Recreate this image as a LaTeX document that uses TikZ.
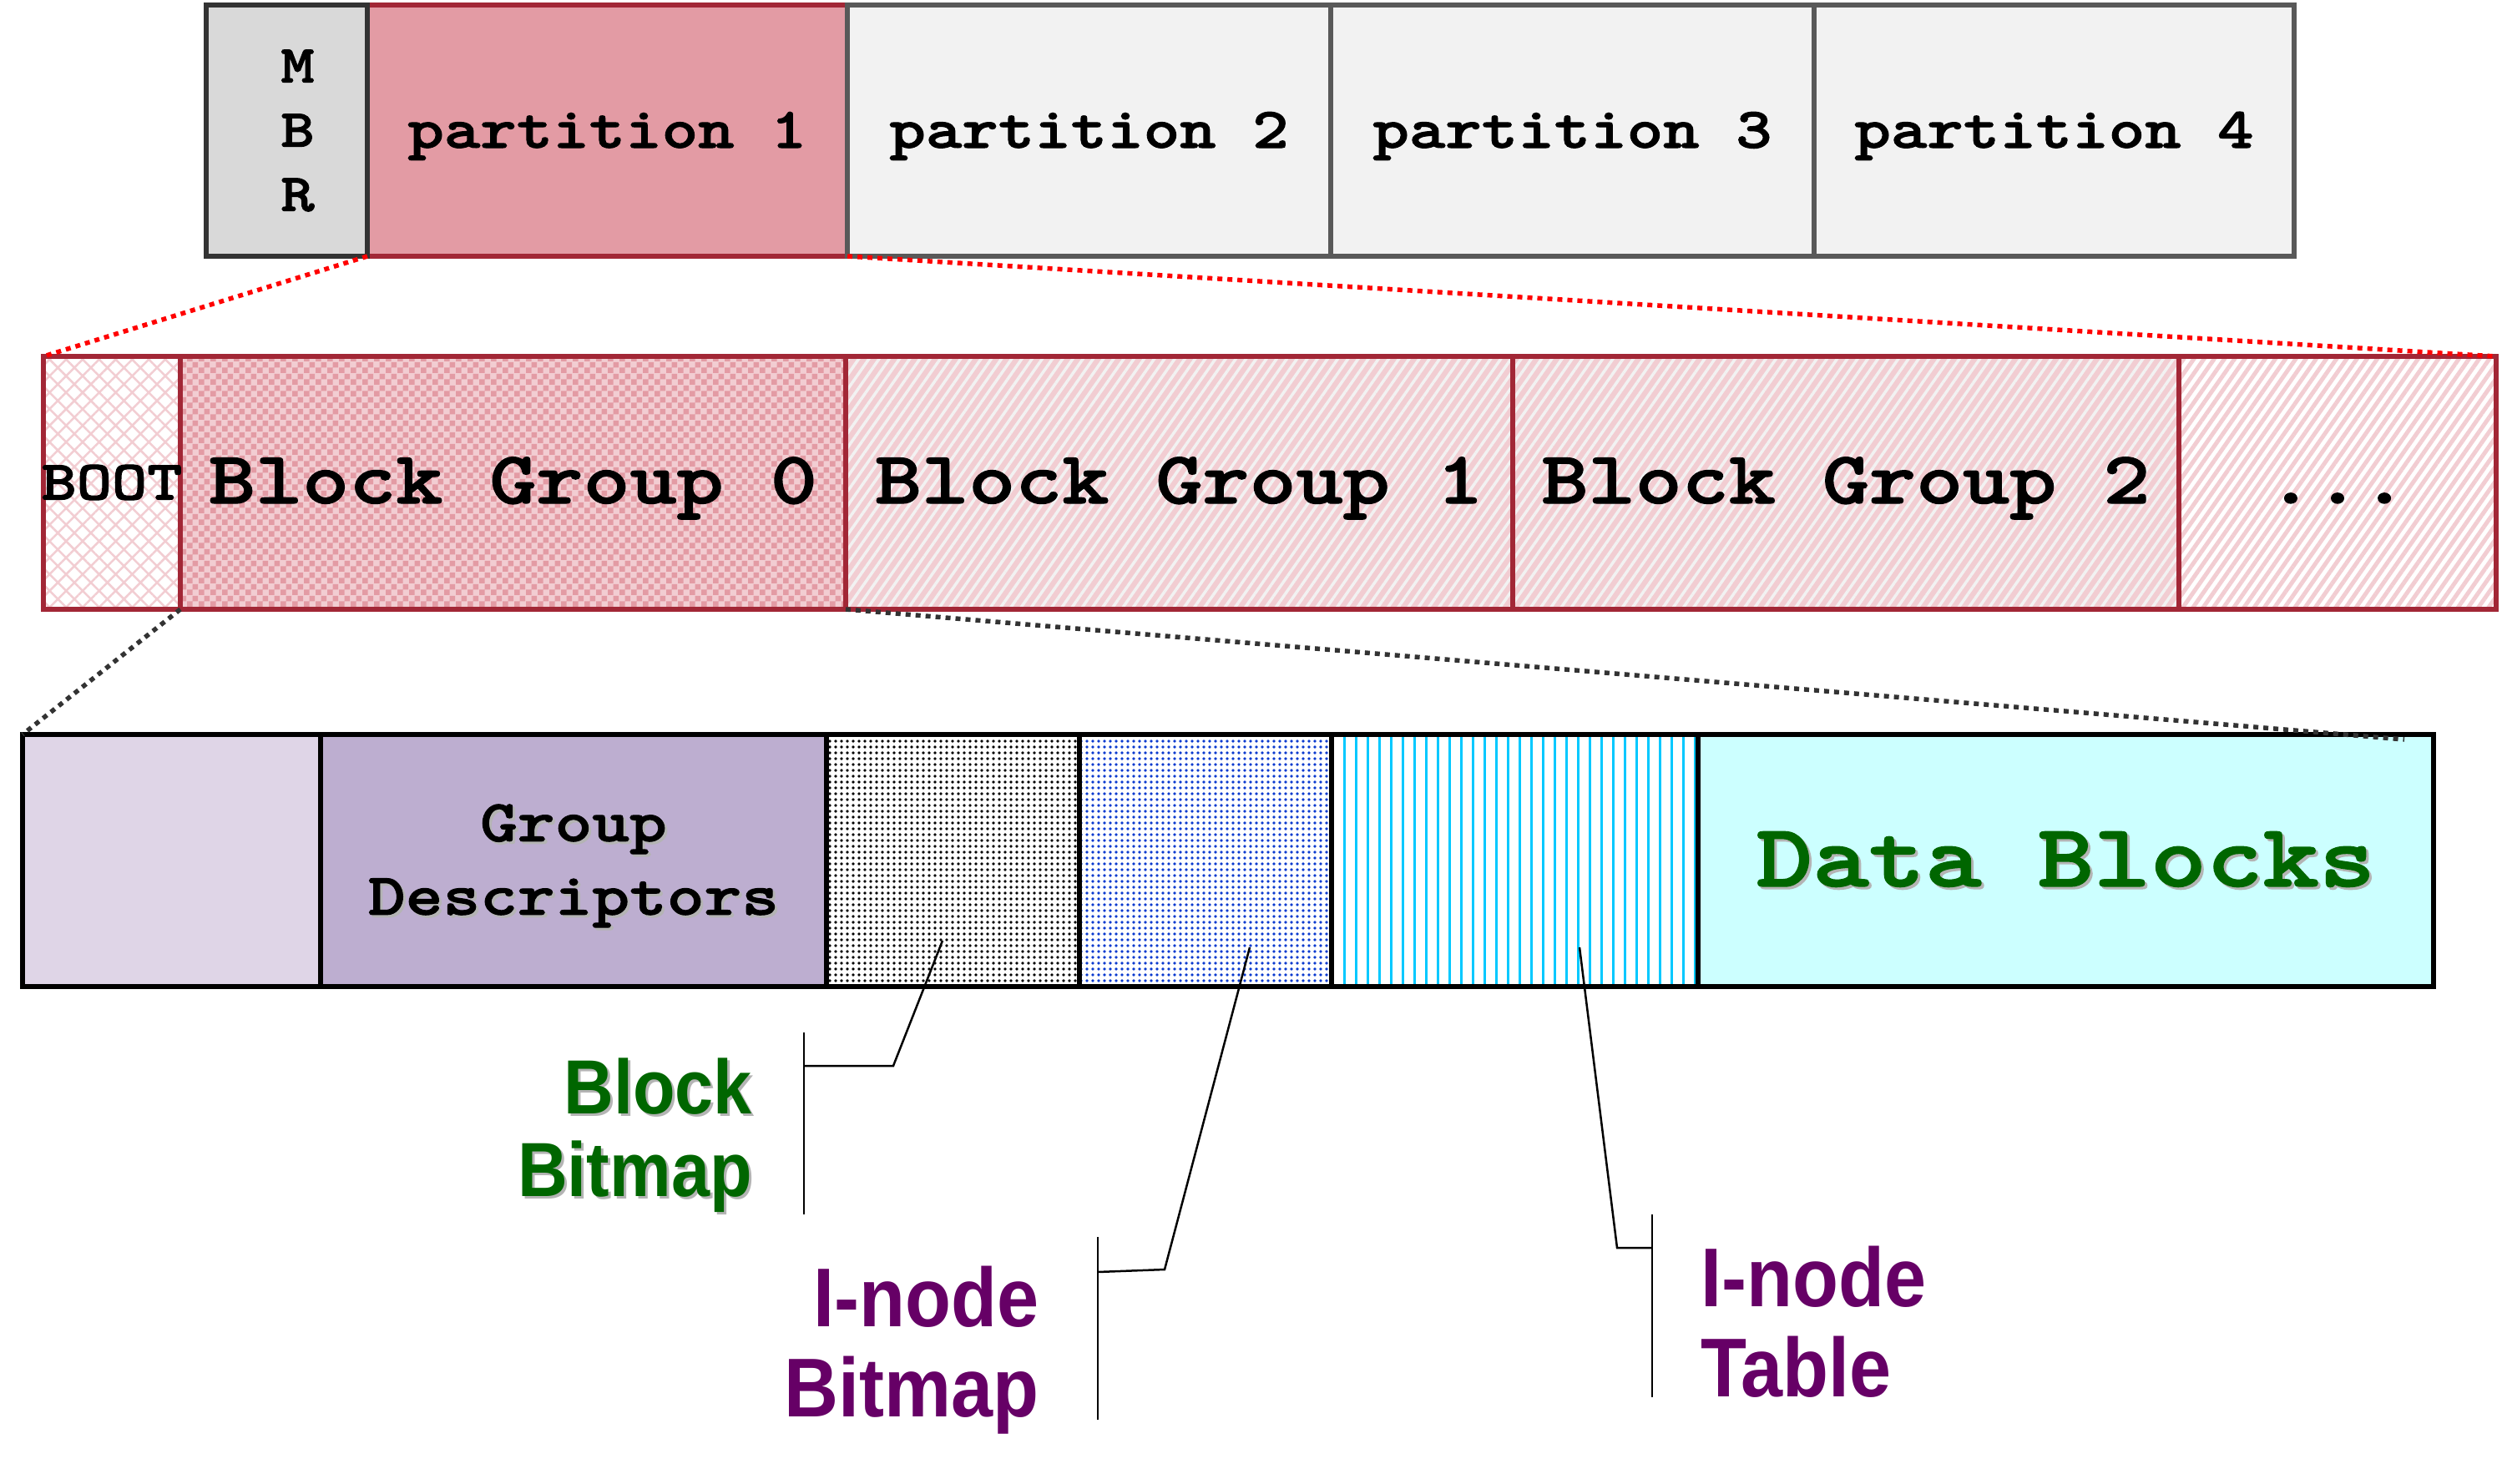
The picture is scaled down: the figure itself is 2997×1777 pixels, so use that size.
\documentclass[tikz,border=0pt]{standalone}
\usepackage{fontspec}
\usetikzlibrary{patterns,patterns.meta}

\newfontfamily\courfont{lmmonolt10-bold}[Extension=.otf,FakeStretch=1.2,FakeBold=1.5]
\newfontfamily\narrowfont{Liberation Sans}[FakeStretch=0.9]

\definecolor{mbrgray}{HTML}{D9D9D9}
\definecolor{mbrline}{HTML}{333333}
\definecolor{partgray}{HTML}{F2F2F2}
\definecolor{partline}{HTML}{595959}
\definecolor{partred}{HTML}{E39BA4}
\definecolor{darkred}{HTML}{A22736}
\definecolor{palepink}{HTML}{F2CDD2}
\definecolor{lavender}{HTML}{DFD5E7}
\definecolor{lilac}{HTML}{BDAED0}
\definecolor{dotblue}{HTML}{0A3ACF}
\definecolor{linecyan}{HTML}{00C8FF}
\definecolor{datacyan}{HTML}{CCFFFF}
\definecolor{labelgreen}{HTML}{006600}
\definecolor{labelpurple}{HTML}{660066}
\definecolor{shadowgray}{HTML}{B4B4B4}

\pgfdeclarepatternformonly{checks}{\pgfpointorigin}{\pgfqpoint{14pt}{14pt}}{\pgfqpoint{14pt}{14pt}}{%
  \pgfpathrectangle{\pgfpointorigin}{\pgfqpoint{7pt}{7pt}}%
  \pgfpathrectangle{\pgfqpoint{7pt}{7pt}}{\pgfqpoint{7pt}{7pt}}%
  \pgfusepath{fill}}

\newcommand{\shadowtxt}[1]{\leavevmode\rlap{\hspace{3pt}\raisebox{-3pt}{\textcolor{shadowgray}{#1}}}#1}

\begin{document}
\begin{tikzpicture}[x=1pt,y=-1pt,
  cell/.style={draw, line width=6pt, inner sep=0pt, outer sep=0pt, anchor=north west},
  toprow/.style={cell, minimum height=301pt},
  part/.style={toprow, draw=partline, fill=partgray, text height=60pt, text depth=19pt, font=\courfont\fontsize{69}{77}\selectfont},
  midrow/.style={cell, draw=darkred, minimum height=303pt, text height=62pt, text depth=13pt, font=\courfont\fontsize{89}{96}\selectfont},
  lowrow/.style={cell, draw=black, line width=6.5pt, minimum height=302pt},
  stripes/.style={preaction={fill=palepink}, pattern={Lines[angle=55,distance=10pt,line width=3.5pt]}, pattern color=partgray},
  dots/.style={preaction={fill=white}, pattern={Dots[distance=7pt,radius=1.8pt]}},
  reddots/.style={draw=red, line width=5.5pt, dash pattern=on 6pt off 6pt},
  graydots/.style={draw=mbrline, line width=5.5pt, dash pattern=on 6pt off 6pt},
  leader/.style={draw=black, line width=2.5pt},
  bitlabel/.style={inner sep=0pt, align=right, anchor=east, font=\narrowfont\bfseries\fontsize{100}{108}\selectfont}
]
\useasboundingbox (0,0) rectangle (2997,1777);

% disk
\node[part, draw=darkred, fill=partred, minimum width=575pt] (part1) at (440,6) {partition 1};
\node[toprow, draw=mbrline, fill=mbrgray, minimum width=193pt, align=center,
      font=\courfont\fontsize{64}{77}\selectfont] (mbr) at (247,6)
      {\hspace*{26pt}M\\\hspace*{26pt}B\\\hspace*{26pt}R};
\node[part, minimum width=579pt] (part2) at (1015,6) {partition 2};
\node[part, minimum width=579pt] (part3) at (1594,6) {partition 3};
\node[part, minimum width=575pt] (part4) at (2173,6) {partition 4};

% partition
\node[midrow, preaction={fill=white}, pattern={Hatch[angle=45,distance=14pt,line width=2.5pt]},
      pattern color=palepink, minimum width=164pt] (boot) at (52,427) {};
\node[midrow, preaction={fill=palepink}, pattern=checks, pattern color=partred,
      minimum width=797pt] (bg0) at (216,427) {Block Group 0};
\node[midrow, stripes, minimum width=799pt] (bg1) at (1013,427) {Block Group 1};
\node[midrow, stripes, minimum width=798pt] (bg2) at (1812,427) {Block Group 2};
\node[midrow, preaction={fill=white}, pattern={Lines[angle=55,distance=10pt,line width=5pt]},
      pattern color=palepink, minimum width=380pt] (etc) at (2610,427) {...};
\node[inner sep=0pt, anchor=base, font=\courfont\fontsize{67}{70}\selectfont] (boottext)
      at ([yshift=-20pt]boot.center) {BOOT};

\draw[reddots] (part1.south west) -- (boot.north west);
\draw[reddots] (part1.south east) -- (etc.north east);

% block group
\node[lowrow, fill=lavender, minimum width=357pt] (sb) at (27,880) {};
\node[lowrow, fill=lilac, minimum width=606pt, align=center,
      font=\courfont\fontsize{71}{88}\selectfont] (gd) at (384,880)
      {\rule{0pt}{60pt}\shadowtxt{Group}\\\shadowtxt{Descriptors}};
\node[lowrow, dots, pattern color=black, minimum width=303pt] (bb) at (990,880) {};
\node[lowrow, dots, pattern color=dotblue, minimum width=302pt] (ib) at (1293,880) {};
\node[lowrow, preaction={fill=white}, pattern={Lines[angle=90,distance=14pt,line width=3pt]},
      pattern color=linecyan, minimum width=439pt] (it) at (1595,880) {};
\node[lowrow, fill=datacyan, minimum width=881pt, text=labelgreen,
      font=\courfont\fontsize{107}{110}\selectfont] (db) at (2034,880) {\shadowtxt{Data Blocks}};

\coordinate (dbend) at (2880,886);
\draw[graydots] (boot.south east) -- (sb.north west);
\draw[graydots] (bg0.south east) -- (dbend);

% labels
\node[bitlabel, text=labelgreen, font=\narrowfont\bfseries\fontsize{92}{99}\selectfont]
      (bbl) at (901,1362) {\shadowtxt{Block}\\\shadowtxt{Bitmap}};
\node[bitlabel, text=labelpurple] (ibl) at (1245,1618) {I-node\\Bitmap};
\node[bitlabel, text=labelpurple, align=left, anchor=west] (itl) at (2037,1584) {I-node\\Table};

\coordinate (bbtip) at (1129,1127);
\coordinate (bbknee) at (1070,1277);
\coordinate (bbmid) at (963,1277);
\coordinate (bbtop) at (963,1237);
\coordinate (bbbot) at (963,1455);
\draw[leader] (bbtip) -- (bbknee) -- (bbmid);
\draw[leader] (bbtop) -- (bbbot);

\coordinate (ibtip) at (1497,1135);
\coordinate (ibknee) at (1395,1521);
\coordinate (ibmid) at (1315,1524);
\coordinate (ibtop) at (1315,1482);
\coordinate (ibbot) at (1315,1701);
\draw[leader] (ibtip) -- (ibknee) -- (ibmid);
\draw[leader] (ibtop) -- (ibbot);

\coordinate (ittip) at (1892,1135);
\coordinate (itknee) at (1937,1495);
\coordinate (itmid) at (1979,1495);
\coordinate (ittop) at (1979,1455);
\coordinate (itbot) at (1979,1674);
\draw[leader] (ittip) -- (itknee) -- (itmid);
\draw[leader] (ittop) -- (itbot);

\end{tikzpicture}
\end{document}
